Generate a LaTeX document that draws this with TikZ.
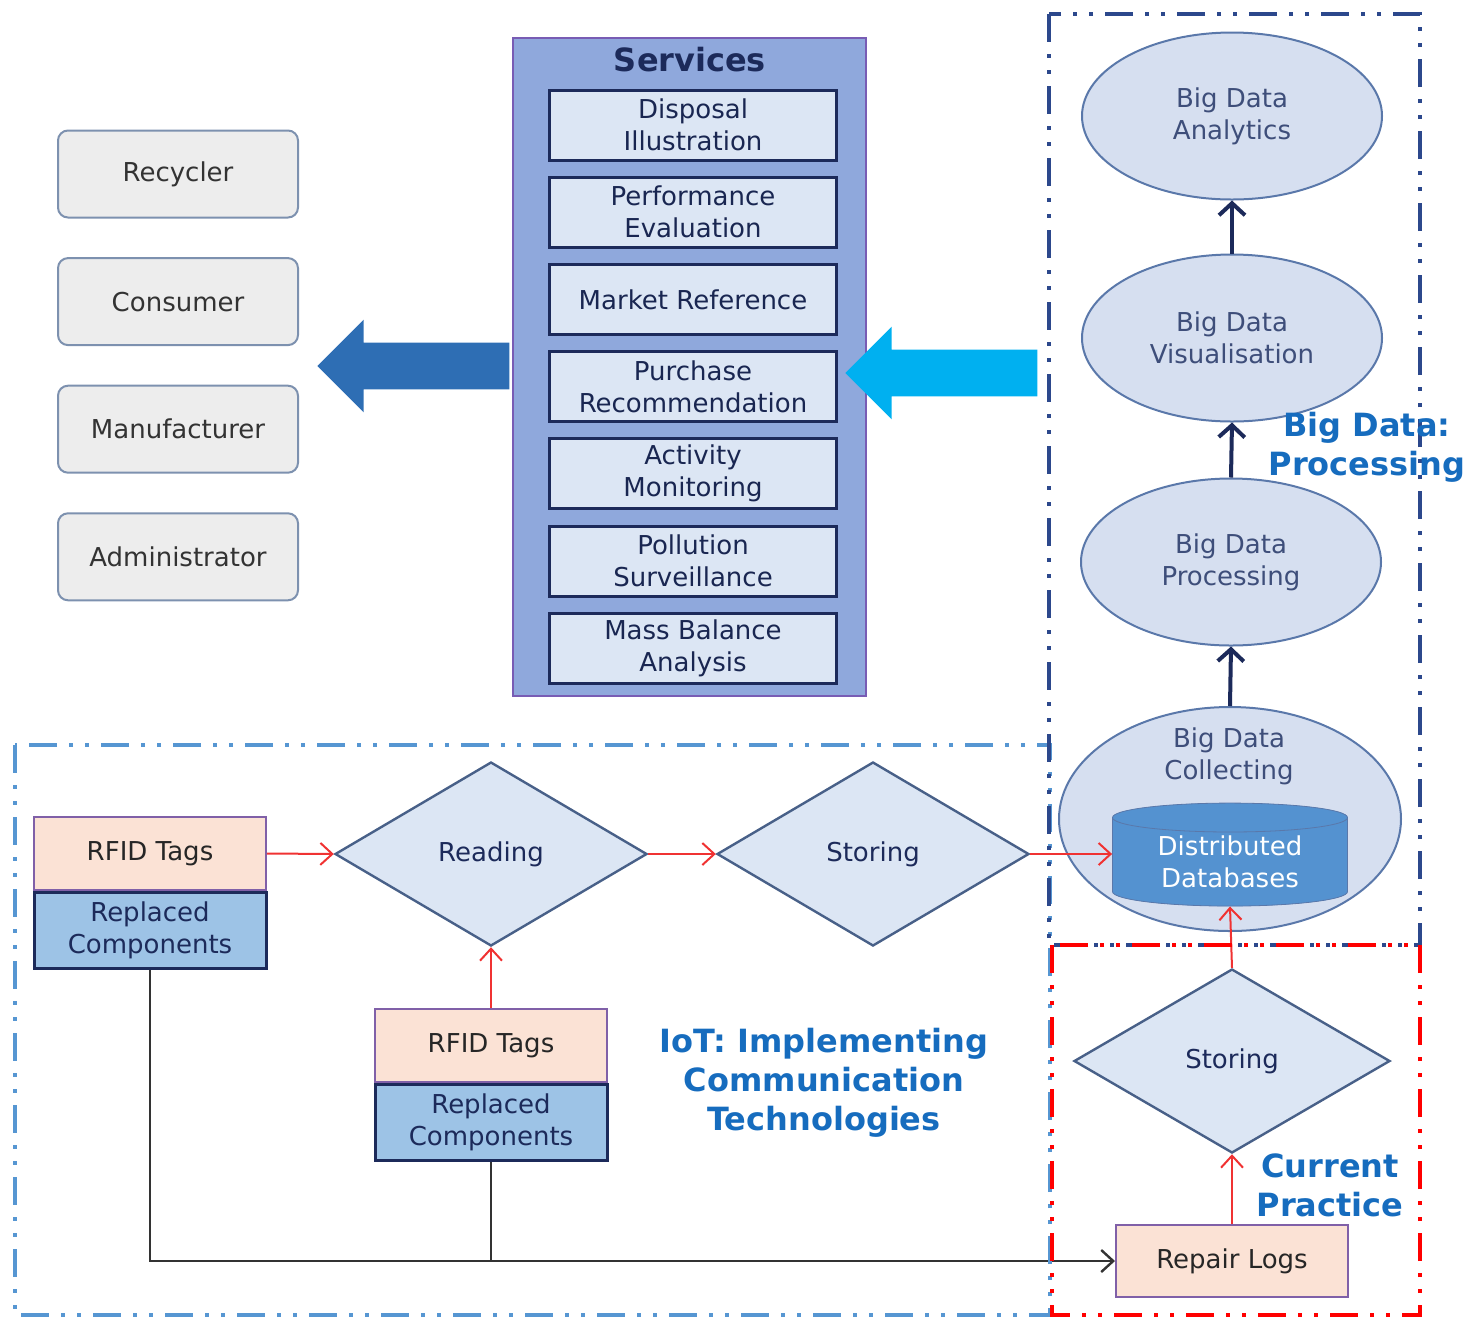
\documentclass[tikz,border=0pt]{standalone}
\usepackage{fontspec}
\setmainfont{DejaVu Sans}
\usetikzlibrary{shapes.geometric,shapes.arrows,arrows.meta,positioning}
\definecolor{usrfill}{RGB}{237,237,237}
\definecolor{usrline}{RGB}{125,145,175}
\definecolor{svfill}{RGB}{143,168,220}
\definecolor{svline}{RGB}{120,92,180}
\definecolor{boxfill}{RGB}{220,230,244}
\definecolor{navy}{RGB}{28,42,90}
\definecolor{elfill}{RGB}{214,223,240}
\definecolor{elline}{RGB}{90,120,170}
\definecolor{eltext}{RGB}{62,78,122}
\definecolor{peach}{RGB}{251,226,213}
\definecolor{peachline}{RGB}{128,96,168}
\definecolor{rcfill}{RGB}{157,195,230}
\definecolor{dbfill}{RGB}{84,146,208}
\definecolor{dbtop}{RGB}{120,170,222}
\definecolor{lbl}{RGB}{22,108,190}
\definecolor{darkarr}{RGB}{46,110,180}
\definecolor{cyanarr}{RGB}{0,176,240}
\definecolor{bdline}{RGB}{44,72,140}
\definecolor{iotline}{RGB}{86,150,210}
\definecolor{redarr}{RGB}{240,50,50}
\begin{document}
\begin{tikzpicture}[x=0.5pt,y=-0.5pt,node distance={7.1pt},
  txt/.style={font=\fontsize{13}{16}\selectfont,align=center,inner sep=0pt},
  user/.style={txt,rectangle,rounded corners=5pt,draw=usrline,fill=usrfill,line width=1pt,minimum width=120pt,minimum height=43.5pt,text=black!80},
  serv/.style={txt,rectangle,draw=navy,fill=boxfill,line width=1.5pt,minimum width=143.5pt,minimum height=35pt,text=navy!90!black},
  bd/.style={txt,ellipse,draw=elline,fill=elfill,line width=1pt,minimum width=150pt,minimum height=83.5pt,text=eltext},
  dia/.style={txt,diamond,draw=elline!80!black,fill=boxfill,line width=1.2pt,minimum width=156pt,minimum height=92pt,text=navy},
  tag/.style={txt,rectangle,draw=peachline,fill=peach,line width=1pt,minimum width=116pt,minimum height=36.5pt,text=black!85},
  rep/.style={txt,rectangle,draw=navy,fill=rcfill,line width=1.5pt,minimum width=116pt,minimum height=38pt,text=navy},
  big/.style={font=\fontsize{16}{19.5}\selectfont\bfseries,align=center,text=lbl,inner sep=0pt},
  blk/.style={single arrow,inner xsep=0pt,inner ysep=11.5pt,minimum height=96pt,single arrow head extend=11.5pt,single arrow tip angle=90,shape border rotate=180},
  ar/.style={draw=redarr,line width=1pt,-{Straight Barb[length=6pt,width=11pt]}},
  nv/.style={draw=navy,line width=2pt,-{Straight Barb[length=6pt,width=13pt]}},
  bl/.style={draw=black!80,line width=1.2pt,-{Straight Barb[length=6pt,width=11pt]}},
  box/.style={line width=2pt,dash pattern=on 14pt off 6pt on 2pt off 6pt on 2pt off 6pt}]
  \useasboundingbox (0,0) rectangle (1468,1319);

  \node[user] (u1) at (178,174) {Recycler};
  \node[user] (u2) [below=19.3pt of u1]{Consumer};
  \node[user] (u3) [below=19.3pt of u2]{Manufacturer};
  \node[user] (u4) [below=19.3pt of u3]{Administrator};

  \node[draw=svline,fill=svfill,line width=1pt,minimum width=176.5pt,minimum height=329pt] (sv) at (689.5,367) {};
  \node[big,text=navy] (svt) at (690,60) {Services};
  \node[serv] (s1) at (693,125) {Disposal\\Illustration};
  \node[serv] (s2) [below=of s1]{Performance\\Evaluation};
  \node[serv] (s3) [below=of s2]{Market Reference};
  \node[serv] (s4) [below=of s3]{Purchase\\Recommendation};
  \node[serv] (s5) [below=of s4]{Activity\\Monitoring};
  \node[serv] (s6) [below=of s5]{Pollution\\Surveillance};
  \node[serv] (s7) [below=of s6]{Mass Balance\\Analysis};

  \node[blk,fill=darkarr] (a1) at (425,366) {};
  \node[blk,fill=cyanarr] (a2) at (953,373) {};

  \node[bd] (e1) at (1232,116) {Big Data\\Analytics};
  \node[bd] (e2) at (1232,338) {Big Data\\Visualisation};
  \node[bd] (e3) at (1231,562) {Big Data\\Processing};
  \node[bd,minimum width=171pt,minimum height=112pt] (e4) at (1230,819) {};
  \node[txt,text=eltext] (e4t) at (1229,756) {Big Data\\Collecting};
  \node[txt,cylinder,shape border rotate=90,aspect=0.2,draw=elline,fill=dbfill,cylinder uses custom fill,cylinder end fill=dbtop,cylinder body fill=dbfill,minimum width=117.5pt,minimum height=51.5pt,text=white] (db) at (1230,862) {Distributed\\Databases};

  \draw[nv] (e4.north) -- (e3.south);
  \draw[nv] (e3.north) -- (e2.south);
  \draw[nv] (e2.north) -- (e1.south);

  \node[tag] (t1) at (150,853.5) {RFID Tags};
  \node[rep] (c1) [below=0pt of t1]{Replaced\\Components};
  \node[dia] (rd) at (491,854) {Reading};
  \node[dia] (st1) at (873,854) {Storing};
  \node[tag] (t2) at (491,1045.5) {RFID Tags};
  \node[rep] (c2) [below=0pt of t2]{Replaced\\Components};
  \node[dia,minimum width=158pt] (st2) at (1232,1061) {Storing};
  \node[tag,minimum height=36pt] (rl) at (1232,1261) {Repair Logs};

  \draw[ar] (t1.east) -- (rd.west);
  \draw[ar] (rd.east) -- (st1.west);
  \draw[ar] (st1.east) -- (st1.east -| db.west);
  \draw[ar] (t2.north) -- (rd.south);
  \draw[ar] (st2.north) -- (db.south);
  \draw[ar] (rl.north) -- (st2.south);
  \draw[bl] (c1.south) |- (rl.west);
  \draw[draw=black!80,line width=1.2pt] (c2.south) -- (c2.south |- rl.west);

  \draw[box,draw=iotline] (15,745) rectangle (1050,1315);
  \draw[box,draw=bdline] (1049,14) rectangle (1420,945);
  \draw[box,draw=red,line width=2.4pt] (1052,945) rectangle (1420,1315);

  \node[big] (l1) at (1367,447) {Big Data:\\Processing};
  \node[big] (l2) at (824,1083) {IoT: Implementing\\Communication\\Technologies};
  \node[big] (l3) at (1330,1185) {Current\\Practice};
\end{tikzpicture}
\end{document}
